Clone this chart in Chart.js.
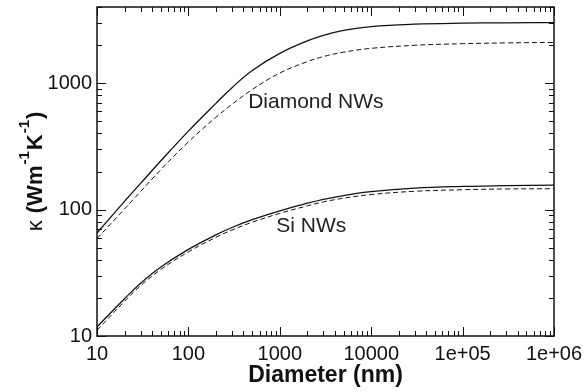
<!DOCTYPE html>
<html>
<head>
<meta charset="utf-8">
<script src="https://cdn.jsdelivr.net/npm/chart.js@4.4.1/dist/chart.umd.min.js"></script>
<style>
  html, body { margin: 0; padding: 0; background: #fff; }
  #wrap { width: 585px; height: 392px; }
</style>
</head>
<body>
<div id="wrap"><canvas id="chart" width="585" height="392"></canvas></div>
<script>
const diameters = [10, 20, 30, 50, 100, 200, 300, 500, 1000, 2000, 3000, 5000, 1e4, 3e4, 1e5, 3e5, 1e6];

// thermal conductivity (W/m/K)
const diamondSolid  = [65.3, 116, 161, 243, 417, 692, 920, 1259, 1718, 2158, 2388, 2612, 2799, 2924, 2979, 2999, 3013];
const diamondDashed = [59, 101, 139, 207, 343, 537, 679, 891, 1202, 1479, 1622, 1758, 1884, 1991, 2051, 2080, 2099];
const siSolid       = [11.8, 19.7, 26.1, 35.1, 48.4, 63.1, 72.1, 83.2, 97.7, 112.2, 120.5, 129.1, 138.4, 147.5, 152.4, 154.9, 156];
const siDashed      = [11.1, 18.8, 25.0, 33.6, 46.3, 60.3, 68.9, 79.4, 93.3, 107, 115, 123, 131.5, 139.5, 143.5, 145.5, 146];

const xMajor = [10, 100, 1000, 1e4, 1e5, 1e6];
const xTickLabels = ['10', '100', '1000', '10000', '1e+05', '1e+06'];
const yMajor = [10, 100, 1000];
const yTickLabels = ['10', '100', '1000'];

const curveLabels = [
    { text: 'Diamond NWs', x: 451, y: 634 },
    { text: 'Si NWs', x: 914, y: 67 }
];

const FONT = '"Liberation Sans", Arial, Helvetica, sans-serif';
const INK = '#111';

function logTicks(majors, min, max) {
    const out = [];
    majors.forEach(d => {
        for (let k = 1; k <= 9; k++) {
            const v = d * k;
            if (v >= min && v <= max) out.push({ value: v, major: k === 1 });
        }
    });
    return out;
}

function line(ctx, x1, y1, x2, y2) {
    ctx.beginPath();
    ctx.moveTo(x1, y1);
    ctx.lineTo(x2, y2);
    ctx.stroke();
}

// inward ticks on all four sides plus the frame
const frameTicks = {
    id: 'frameTicks',
    afterDraw(chart) {
        const { ctx, chartArea: a, scales: { x, y } } = chart;
        ctx.save();
        ctx.strokeStyle = INK;
        ctx.lineWidth = 1;
        x.ticks.forEach(t => {
            const px = Math.round(x.getPixelForValue(t.value)) + 0.5;
            const len = t.major ? 9 : 5;
            line(ctx, px, a.bottom, px, a.bottom - len);
            line(ctx, px, a.top, px, a.top + len);
        });
        y.ticks.forEach(t => {
            const py = Math.round(y.getPixelForValue(t.value)) + 0.5;
            const len = t.major ? 9 : 5;
            line(ctx, a.left, py, a.left + len, py);
            line(ctx, a.right, py, a.right - len, py);
        });
        ctx.lineWidth = 1.5;
        ctx.strokeRect(a.left, a.top, a.right - a.left, a.bottom - a.top);
        ctx.restore();
    }
};

// curve names and the y title with superscripts
const texts = {
    id: 'texts',
    afterDraw(chart) {
        const { ctx, chartArea: a, scales: { x, y } } = chart;
        ctx.save();
        ctx.fillStyle = '#222';
        ctx.font = '21px ' + FONT;
        ctx.textBaseline = 'alphabetic';
        ctx.textAlign = 'left';
        curveLabels.forEach(l => {
            ctx.fillText(l.text, x.getPixelForValue(l.x), y.getPixelForValue(l.y));
        });

        const parts = [
            { t: 'κ', f: '22px ' + FONT, dy: 0 },
            { t: ' (Wm', f: 'bold 22px ' + FONT, dy: 0 },
            { t: '-1', f: 'bold 15px ' + FONT, dy: -13 },
            { t: 'K', f: 'bold 22px ' + FONT, dy: 0 },
            { t: '-1', f: 'bold 15px ' + FONT, dy: -13 },
            { t: ')', f: 'bold 22px ' + FONT, dy: 0 }
        ];
        const gap = 1;
        let total = 0;
        parts.forEach(p => { ctx.font = p.f; p.w = ctx.measureText(p.t).width; total += p.w + gap; });
        total -= gap;
        ctx.translate(42, (a.top + a.bottom) / 2);
        ctx.rotate(-Math.PI / 2);
        ctx.fillStyle = INK;
        let cx = -total / 2;
        parts.forEach(p => {
            ctx.font = p.f;
            ctx.fillText(p.t, cx, p.dy);
            cx += p.w + gap;
        });
        ctx.restore();
    }
};

function series(data, dashed) {
    return {
        data: data.map((v, i) => ({ x: diameters[i], y: v })),
        borderColor: INK,
        borderWidth: dashed ? 1 : 1.3,
        borderDash: dashed ? [5, 3] : [],
        pointRadius: 0,
        fill: false,
        tension: 0.4
    };
}

new Chart(document.getElementById('chart'), {
    type: 'line',
    data: {
        datasets: [
            series(diamondSolid, false),
            series(diamondDashed, true),
            series(siSolid, false),
            series(siDashed, true)
        ]
    },
    options: {
        responsive: false,
        animation: false,
        devicePixelRatio: 1,
        layout: { padding: { top: 7, right: 31, left: 0, bottom: 3 } },
        plugins: { legend: { display: false }, tooltip: { enabled: false } },
        scales: {
            x: {
                type: 'logarithmic',
                min: 10,
                max: 1e6,
                grid: { display: false, drawTicks: false },
                border: { display: false },
                afterBuildTicks: s => { s.ticks = logTicks(xMajor, 10, 1e6); },
                afterFit: s => { s.height = 53; s.paddingLeft = 0; s.paddingRight = 0; },
                ticks: {
                    autoSkip: false,
                    maxRotation: 0,
                    padding: 6,
                    color: INK,
                    font: { family: FONT, size: 20 },
                    callback: v => { const i = xMajor.indexOf(v); return i >= 0 ? xTickLabels[i] : ''; }
                },
                title: {
                    display: true,
                    text: 'Diameter (nm)',
                    color: INK,
                    padding: 0,
                    font: { family: FONT, size: 23, weight: 'bold' }
                }
            },
            y: {
                type: 'logarithmic',
                min: 10,
                max: 4000,
                grid: { display: false, drawTicks: false },
                border: { display: false },
                afterBuildTicks: s => { s.ticks = logTicks(yMajor, 10, 4000); },
                afterFit: s => { s.width = 97; s.paddingTop = 0; s.paddingBottom = 0; },
                ticks: {
                    autoSkip: false,
                    padding: 5,
                    color: INK,
                    font: { family: FONT, size: 20 },
                    callback: v => { const i = yMajor.indexOf(v); return i >= 0 ? yTickLabels[i] : ''; }
                }
            }
        }
    },
    plugins: [frameTicks, texts]
});
</script>
</body>
</html>
